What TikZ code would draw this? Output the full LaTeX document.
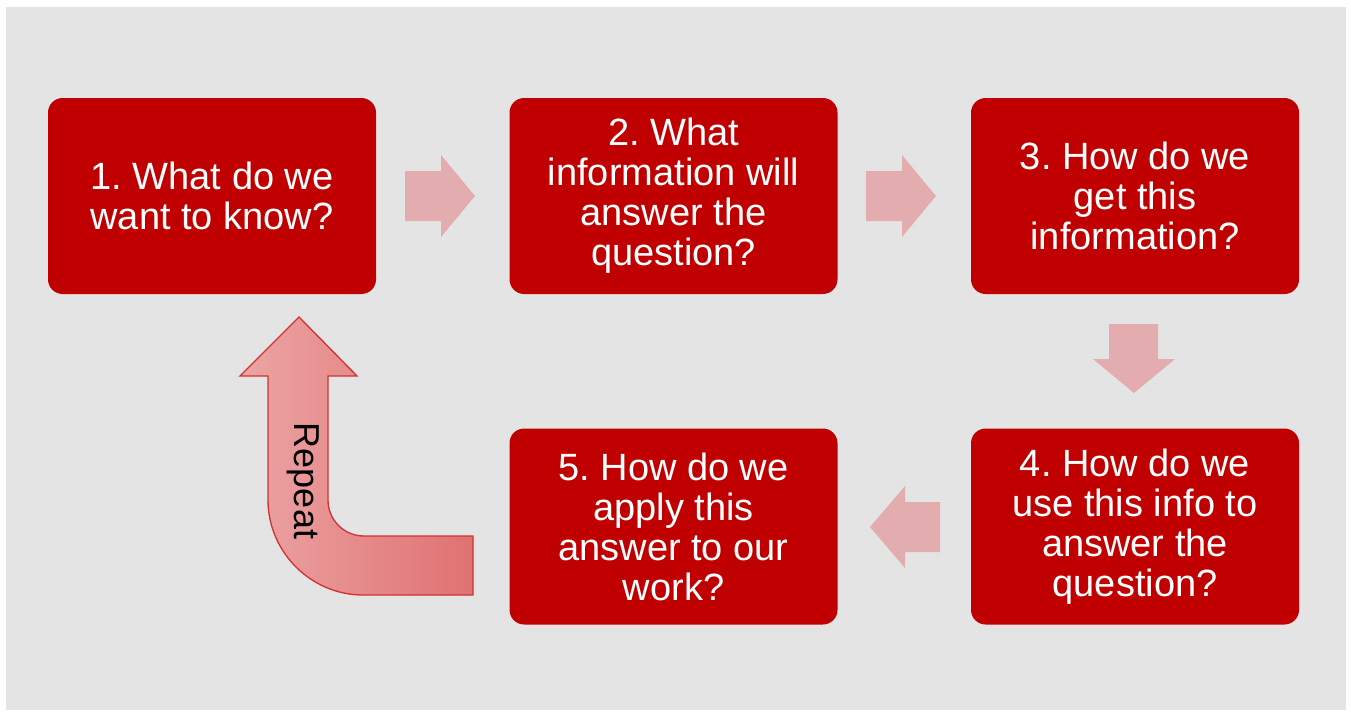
\documentclass[tikz,border=0pt]{standalone}
\usepackage{fontspec}
\setmainfont{Liberation Sans}
\frenchspacing
\definecolor{bg}{RGB}{228,228,228}
\definecolor{boxred}{RGB}{192,0,0}
\definecolor{pinkarrow}{RGB}{227,172,175}
\definecolor{repL}{RGB}{236,164,164}
\definecolor{repR}{RGB}{224,114,114}
\definecolor{repD}{RGB}{210,50,50}
\tikzset{
  stepbox/.style={fill=boxred, rounded corners=11pt, text=white, align=center,
    font=\fontsize{28.5}{30}\selectfont, inner sep=0pt,
    minimum width=246pt, minimum height=147pt},
  blockarrow/.style={fill=pinkarrow, draw=none},
}
\begin{document}
\begin{tikzpicture}[x=0.75pt,y=-0.75pt]
\useasboundingbox (0,0) rectangle (1351,715);
\fill[white] (0,0) rectangle (1351,715);
\fill[bg] (6,7) rectangle (1346,710);
% boxes
\node[stepbox] (b1) at (212,196) {1. What do we\\want to know?};
\node[stepbox] (b2) at (673.5,196) {2. What\\information will\\answer the\\question?};
\node[stepbox] (b3) at (1135,196) {3. How do we\\get this\\information?};
\node[stepbox] (b4) at (1135,526.5) {4. How do we\\use this info to\\answer the\\question?};
\node[stepbox] (b5) at (673.5,526.5) {5. How do we\\apply this\\answer to our\\work?};
% block arrows
\fill[blockarrow] (405,171) -- (441,171) -- (441,155) -- (475,196) -- (441,237) -- (441,221) -- (405,221) -- cycle;
\fill[blockarrow] (866,171) -- (902,171) -- (902,155) -- (936,196) -- (902,237) -- (902,221) -- (866,221) -- cycle;
\fill[blockarrow] (1109,324) -- (1158,324) -- (1158,359) -- (1175,359) -- (1134,393) -- (1093,359) -- (1109,359) -- cycle;
\fill[blockarrow] (940,502) -- (905,502) -- (905,486) -- (870,527) -- (905,568) -- (905,552) -- (940,552) -- cycle;
% repeat arrow
\path[left color=repL, right color=repR, draw=repD, line width=1pt]
  (473,536) -- (364,536) .. controls (344,536) and (328,520) .. (328,500)
  -- (328,376) -- (357,376) -- (299,317) -- (240,376) -- (268,376) -- (268,500)
  .. controls (268,552) and (311,595) .. (363,595) -- (473,595) -- cycle;
\node[rotate=-90, font=\fontsize{27}{30}\selectfont, text=black] (rep) at (303,481) {Repeat};
\end{tikzpicture}
\end{document}
